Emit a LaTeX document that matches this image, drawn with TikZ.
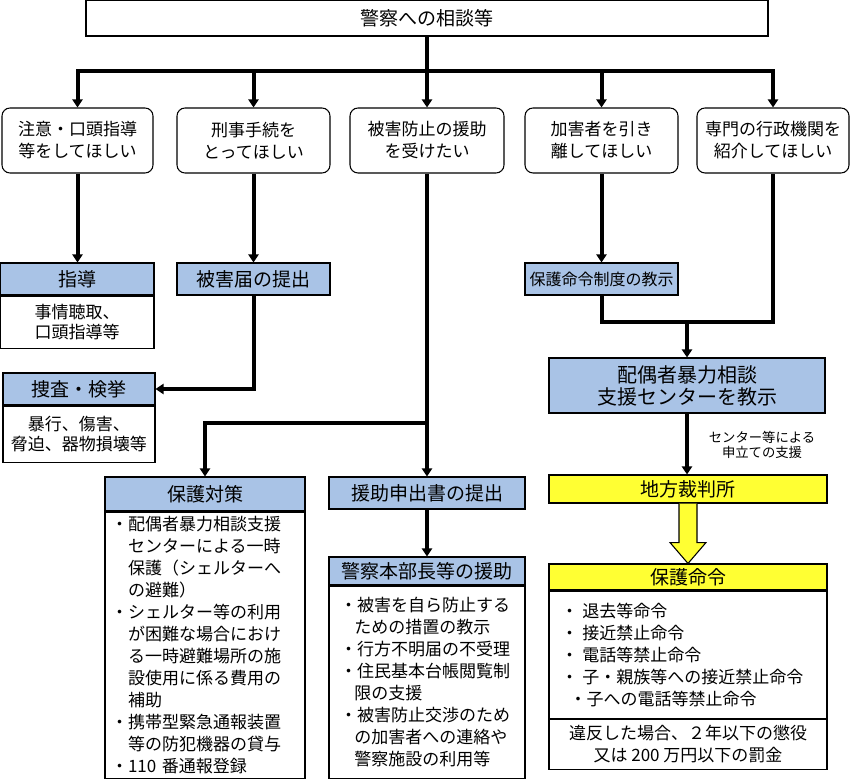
\documentclass[tikz,border=0pt]{standalone}
\usepackage{fontspec}
\newfontfamily\jp{Noto Sans CJK JP}
\usetikzlibrary{arrows.meta,calc}
\definecolor{hblue}{HTML}{A9C3E6}
\definecolor{hyel}{HTML}{FFFF33}
\begin{document}
\begin{tikzpicture}[x=0.75pt,y=-0.75pt,
  >={Triangle[width=7.5pt,length=6pt]},
  box/.style 2 args={draw,line width=0.8pt,inner sep=0pt,minimum width=#1*0.75pt,minimum height=#2*0.75pt,align=center,font=\jp\fontsize{12.75pt}{16.5pt}\selectfont},
  rbox/.style 2 args={box={#1}{#2},rounded corners=6pt},
  f17/.style={font=\jp\fontsize{12.75pt}{16.5pt}\selectfont},
  fb/.style={font=\jp\fontsize{12.75pt}{15pt}\selectfont},
  f16/.style={font=\jp\fontsize{12pt}{15pt}\selectfont},
  f19/.style={font=\jp\fontsize{14.25pt}{16.5pt}\selectfont},
  f20/.style={font=\jp\fontsize{15pt}{16.5pt}\selectfont},
  fsm/.style={font=\jp\fontsize{10pt}{11.5pt}\selectfont},
  conn/.style={line width=3pt},
  barrow/.style={draw,line width=0.8pt,fill=hyel}]
\useasboundingbox (0,0) rectangle (850,780);

% top
\node[box={682}{35.5},f19] (top) at (427,18.25) {警察への相談等};

% row of requests
\node[rbox={151}{65},f17] (b1) at (77.5,140.5) {注意・口頭指導\\等をしてほしい};
\node[rbox={153}{65},f17] (b2) at (253.5,140.5) {刑事手続を\\とってほしい};
\node[rbox={154}{65},f17] (b3) at (427,140.5) {被害防止の援助\\を受けたい};
\node[rbox={153}{65},f17] (b4) at (601.5,140.5) {加害者を引き\\離してほしい};
\node[rbox={152}{65},f17] (b5) at (773,140.5) {専門の行政機関を\\紹介してほしい};

% left column
\node[box={153.5}{32},fill=hblue,f19] (shidoH) at (77.25,279) {指導};
\node[box={153.5}{52},fb,anchor=north] (shidoB) at (shidoH.south) {事情聴取、\\口頭指導等};
\node[box={153}{32},fill=hblue,f19] (higaiH) at (253.5,279) {被害届の提出};
\node[box={152}{32},fill=hblue,f19] (sousaH) at (79,389) {捜査・検挙};
\node[box={152}{56},fb,anchor=north] (sousaB) at (sousaH.south) {暴行、傷害、\\脅迫、器物損壊等};

% protection measures
\node[box={200}{34},fill=hblue,f19] (taiH) at (205,494) {保護対策};
\node[box={200}{266},f17,anchor=north,align=left,text width=141pt,inner xsep=4.5pt] (taiB) at (taiH.south)
{・配偶者暴力相談支援\\
\hspace*{1em}センターによる一時\\
\hspace*{1em}保護（シェルターへ\\
\hspace*{1em}の避難）\\
・シェルター等の利用\\
\hspace*{1em}が困難な場合におけ\\
\hspace*{1em}る一時避難場所の施\\
\hspace*{1em}設使用に係る費用の\\
\hspace*{1em}補助\\
・携帯型緊急通報装置\\
\hspace*{1em}等の防犯機器の貸与\\
・110 番通報登録};

% assistance
\node[box={196}{32},fill=hblue,f19] (enjo) at (427,493) {援助申出書の提出};
\node[box={196}{28},fill=hblue,f19] (keiH) at (427,571) {警察本部長等の援助};
\node[box={196}{192},f17,anchor=north,align=left,text width=130.5pt,inner xsep=8.25pt] (keiB) at (keiH.south)
{・被害を自ら防止する\\
\hspace*{0.85em}ための措置の教示\\
・行方不明届の不受理\\
・住民基本台帳閲覧制\\
\hspace*{0.85em}限の支援\\
・被害防止交渉のため\\
\hspace*{0.85em}の加害者への連絡や\\
\hspace*{0.85em}警察施設の利用等};

% right column
\node[box={153}{32},fill=hblue,f16] (seido) at (601.5,279) {保護命令制度の教示};
\node[box={276}{55},fill=hblue,f20] (hai) at (687,385.5) {配偶者暴力相談\\支援センターを教示};
\node[fsm,align=center] (lab) at (762,445) {センター等による\\申立ての支援};
\node[box={278}{28},fill=hyel,f19] (chiho) at (688,489) {地方裁判所};
\node[box={278}{26},fill=hyel,f19] (meiH) at (688,577) {保護命令};
\node[box={278}{127},f17,anchor=north,align=left,text width=190.5pt,inner xsep=9pt] (meiB) at (meiH.south)
{・\hspace{0.25em}退去等命令\\
・\hspace{0.25em}接近禁止命令\\
・\hspace{0.25em}電話等禁止命令\\
・\hspace{0.25em}子・親族等への接近禁止命令\\
\hspace*{0.5em}・子への電話等禁止命令};
\node[box={278}{50},font=\jp\fontsize{12.75pt}{17pt}\selectfont,anchor=north] (meiF) at (meiB.south)
{違反した場合、２年以下の懲役\\又は 200 万円以下の罰金};

% block arrow
\draw[barrow] ($(chiho.south)+(-9,0)$) -- ($(chiho.south)+(-9,39)$) -- ($(chiho.south)+(-18,39)$)
  -- (meiH.north) -- ($(chiho.south)+(18,39)$) -- ($(chiho.south)+(9,39)$) -- ($(chiho.south)+(9,0)$);

% connectors
\coordinate (bus) at (427,71);
\draw[conn] (top.south) -- (bus);
\draw[conn,<->] (b1.north) -- (b1.north |- bus) -- (b5.north |- bus) -- (b5.north);
\draw[conn,->] (b2.north |- bus) -- (b2.north);
\draw[conn,->] (b3.north |- bus) -- (b3.north);
\draw[conn,->] (b4.north |- bus) -- (b4.north);

\draw[conn,->] (b1.south) -- (b1.south |- shidoH.north);
\draw[conn,->] (b2.south) -- (higaiH.north);
\draw[conn,->] (higaiH.south) |- (sousaH.east);

\draw[conn,->] (b3.south) -- (enjo.north);
\coordinate (br) at (427,423);
\draw[conn,->] (br) -| (taiH.north);
\draw[conn,->] (enjo.south) -- (keiH.north);

\draw[conn,->] (b4.south) -- (b4.south |- seido.north);
\coordinate (j) at (688,322);
\draw[conn] (seido.south) -- (seido.south |- j) -- (b5.south |- j) -- (b5.south);
\draw[conn,->] (hai.north |- j) -- (hai.north);
\draw[conn,->] (hai.south) -- (hai.south |- chiho.north);
\end{tikzpicture}
\end{document}
